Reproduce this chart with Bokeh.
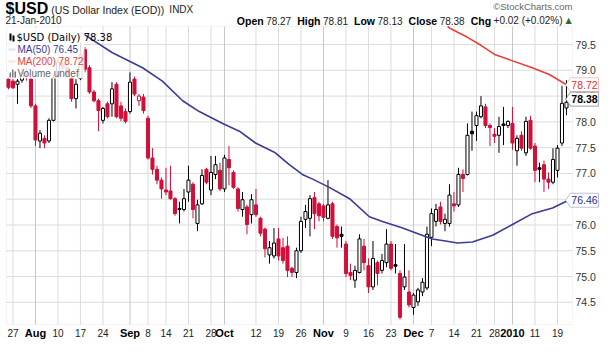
from bokeh.plotting import figure
from bokeh.models import (ColumnDataSource, Range1d, Label, PolyAnnotation, BoxAnnotation)
from bokeh.embed import file_html
from bokeh.resources import INLINE
from bokeh.core.properties import value

# ---------------- data ----------------
# one bar per trading day, 24 Jul 2009 .. 21 Jan 2010
opens = [78.83, 78.79, 78.73, 78.81, 78.95, 78.83, 78.31, 77.63, 77.68, 77.63,
         78.03, 78.90, 79.12, 79.05, 78.86, 78.45, 78.84, 79.40, 79.05, 78.58,
         78.41, 78.03, 78.35, 78.35, 78.73, 78.31, 78.20, 78.20, 78.83, 78.41,
         78.48, 78.07, 77.30, 77.08, 76.87, 76.68, 76.66, 76.51, 76.32, 76.30,
         76.64, 76.79, 76.03, 76.41, 77.08, 76.68, 76.98, 77.06, 76.70, 77.27,
         77.02, 76.70, 76.30, 76.35, 76.20, 76.39, 76.13, 75.92, 75.42, 75.40,
         75.73, 75.56, 75.59, 75.16, 75.08, 75.50, 76.11, 76.13, 76.53, 76.41,
         76.37, 76.13, 76.41, 75.97, 75.82, 75.63, 75.08, 74.93, 75.08, 75.59,
         75.21, 74.80, 75.27, 75.12, 75.27, 75.63, 75.23, 75.06, 74.80, 74.70,
         74.40, 74.51, 74.70, 74.78, 75.76, 76.07, 76.35, 76.03, 76.03, 76.41,
         76.39, 76.98, 76.98, 77.82, 77.93, 78.10, 78.29, 77.93, 77.76, 77.74,
         77.96, 77.93, 77.97, 77.44, 77.74, 77.40, 78.03, 77.53, 77.11, 77.17,
         76.89, 76.83, 77.06, 77.59, 78.27]
highs = [78.86, 78.83, 78.83, 79.02, 79.05, 78.86, 78.35, 77.84, 77.74, 78.07,
         78.92, 79.25, 79.30, 79.15, 78.96, 78.83, 79.53, 79.45, 79.10, 78.62,
         78.45, 78.29, 78.39, 78.77, 78.77, 78.39, 78.26, 78.96, 78.88, 78.54,
         78.54, 78.12, 77.49, 77.15, 76.92, 77.11, 77.15, 76.54, 76.45, 76.70,
         77.15, 76.83, 76.49, 77.08, 77.11, 77.34, 77.34, 77.21, 77.36, 77.53,
         77.06, 76.73, 76.64, 76.39, 76.60, 76.70, 76.16, 75.95, 75.69, 75.94,
         75.94, 75.75, 75.78, 75.19, 75.56, 76.16, 76.39, 76.58, 76.64, 76.45,
         76.41, 76.87, 76.45, 76.01, 75.97, 75.69, 75.25, 75.21, 75.82, 75.73,
         75.35, 75.69, 75.31, 75.44, 75.92, 75.69, 75.63, 75.12, 75.63, 75.12,
         74.68, 74.78, 74.97, 75.97, 76.32, 76.41, 76.45, 76.22, 76.79, 76.64,
         77.11, 77.08, 77.97, 78.20, 78.20, 78.50, 78.35, 77.97, 77.88, 78.10,
         78.29, 78.03, 78.29, 77.74, 77.82, 78.10, 78.12, 77.59, 77.21, 77.25,
         77.02, 77.49, 77.55, 78.70, 78.81]
lows = [78.63, 78.64, 78.35, 78.76, 78.80, 78.27, 77.53, 77.49, 77.49, 77.59,
        78.01, 78.85, 78.98, 78.85, 78.39, 78.26, 78.81, 78.96, 78.54, 78.38,
        77.82, 77.97, 78.07, 78.10, 78.07, 78.01, 77.97, 78.16, 78.50, 78.31,
        78.16, 77.27, 76.98, 76.79, 76.51, 76.58, 76.49, 76.18, 76.03, 76.26,
        76.45, 76.13, 75.88, 76.39, 76.79, 76.58, 76.89, 76.66, 76.64, 76.77,
        76.70, 76.26, 76.16, 75.82, 76.03, 76.16, 75.78, 75.37, 75.25, 75.35,
        75.31, 75.25, 74.99, 74.99, 74.97, 75.46, 75.94, 75.78, 75.92, 76.07,
        76.07, 76.11, 75.73, 75.56, 75.56, 74.99, 74.93, 74.78, 75.06, 75.12,
        74.68, 74.74, 74.83, 75.06, 75.18, 75.12, 75.06, 74.17, 74.74, 74.40,
        74.26, 74.43, 74.62, 74.74, 75.59, 75.97, 76.01, 75.88, 75.97, 76.26,
        76.35, 76.64, 76.96, 77.44, 77.63, 78.07, 77.88, 77.53, 77.59, 77.40,
        77.55, 77.88, 77.46, 77.15, 77.44, 77.34, 77.46, 76.83, 76.83, 76.64,
        76.70, 76.79, 76.92, 77.53, 78.13]
closes = [78.67, 78.66, 78.79, 78.95, 78.88, 78.31, 77.65, 77.78, 77.59, 78.03,
          78.86, 79.15, 79.05, 78.92, 78.45, 78.73, 79.30, 79.02, 78.58, 78.41,
          78.22, 78.26, 78.10, 78.64, 78.10, 78.07, 78.01, 78.77, 78.54, 78.50,
          78.22, 77.30, 77.08, 76.87, 76.70, 76.64, 76.51, 76.22, 76.30, 76.51,
          76.87, 76.30, 76.39, 76.96, 76.83, 77.02, 77.17, 76.70, 77.30, 77.11,
          76.73, 76.32, 76.49, 76.01, 76.49, 76.20, 75.84, 75.54, 75.56, 75.65,
          75.40, 75.31, 75.12, 75.08, 75.50, 76.07, 76.26, 76.51, 76.22, 76.18,
          76.15, 76.39, 75.78, 75.75, 75.78, 75.06, 75.02, 75.12, 75.73, 75.27,
          74.80, 75.35, 75.06, 75.31, 75.63, 75.16, 75.20, 74.21, 74.99, 74.45,
          74.64, 74.74, 74.89, 75.82, 76.22, 76.30, 76.07, 76.11, 76.58, 76.37,
          76.98, 76.90, 77.74, 77.77, 78.12, 78.31, 77.93, 77.89, 77.72, 77.91,
          77.93, 78.01, 77.59, 77.68, 77.49, 78.01, 77.49, 77.06, 77.08, 76.89,
          76.83, 77.27, 77.49, 78.36, 78.38]

# moving averages (bar index, value)
ma50_x = [16.2, 23.1, 29.8, 34.2, 38.7, 42.4, 47.6, 51.3, 54.9, 59.3, 62.4, 65.3, 67.6, 71.3,
          75.8, 80.2, 83.1, 87.6, 91.3, 94.2, 97.1, 99.8, 103.1, 107.6, 112.0, 116.4, 120.9, 124.0]
ma50_y = [79.73, 79.34, 79.05, 78.79, 78.41, 78.20, 77.97, 77.82, 77.59, 77.40, 77.17, 76.98, 76.89, 76.73,
          76.51, 76.16, 76.07, 75.94, 75.82, 75.73, 75.69, 75.65, 75.67, 75.80, 76.01, 76.22, 76.33, 76.46]
ma200_x = [97.6, 98.2, 102.0, 104.9, 108.2, 116.4, 120.2, 124.0]
ma200_y = [79.85, 79.81, 79.64, 79.49, 79.30, 79.05, 78.92, 78.72]

# x tick labels (bar index of the labelled day)
tick_idx = [1, 6, 11, 16, 21, 27, 31, 35, 40, 45, 48, 55, 60, 65, 70, 75, 80, 85, 90, 94,
            99, 104, 108, 112, 117, 122]
tick_text = ["27", "Aug", "10", "17", "24", "Sep", "8", "14", "21", "28", "Oct", "12", "19", "26",
             "Nov", "9", "16", "23", "Dec", "7", "14", "21", "28", "2010", "11", "19"]
y_ticks = [74.5, 75.0, 75.5, 76.0, 76.5, 77.0, 77.5, 78.0, 78.5, 79.0, 79.5]

quote = [("Open", "78.27"), ("High", "78.81"), ("Low", "78.13"), ("Close", "78.38"),
         ("Chg", "+0.02 (+0.02%)")]
last_close_tag = "78.38"
ma50_tag, ma200_tag = "76.46", "78.72"

# ---------------- layout (canvas pixels) ----------------
W, H = 600, 339
CX0, CX1, CY0, CY1 = 6, 572, 26, 324          # chart box inside the canvas
X0, X1 = -0.44, 125.34                        # bar-index span of the chart box
Y0, Y1 = 74.07, 79.85                         # price span of the chart box
PXX = (X1 - X0) / (CX1 - CX0)
PXY = (Y1 - Y0) / (CY1 - CY0)


def dx(px):
    return X0 + (px - CX0) * PXX


def dy(py):
    return Y1 - (py - CY0) * PXY


# approximate Arial/Liberation Sans advance widths (per 1000 em) for text layout
_REG = {" ": 278, "(": 333, ")": 333, "+": 584, "%": 889, ".": 278, "-": 333, "$": 556,
        "I": 278, "N": 722, "D": 722, "X": 667, "U": 722, "S": 667, "E": 667, "O": 778,
        "a": 556, "c": 500, "d": 556, "e": 556, "f": 278, "i": 222, "l": 222, "m": 833,
        "n": 556, "o": 556, "r": 333, "s": 500, "t": 278, "u": 556, "x": 500, "y": 500}
_BOLD = {"O": 778, "p": 611, "e": 556, "n": 611, "H": 722, "i": 278, "g": 611, "h": 611,
         "L": 611, "o": 611, "w": 778, "C": 722, "l": 278, "s": 556, "$": 556, "U": 722,
         "S": 667, "D": 722}


def tw(s, size, bold=False):
    table = _BOLD if bold else _REG
    return sum(table.get(ch, 556) for ch in s) * size / 1000.0


FONT = "Liberation Sans"
RED = "#d0103a"
MA50_C = "#3b3b98"
MA200_C = "#e8413b"
GRID = "#dcdcdc"

p = figure(width=W, height=H, output_backend="svg", toolbar_location=None,
           x_range=Range1d(dx(0), dx(W)), y_range=Range1d(dy(H), dy(0)),
           x_axis_location=None, y_axis_location=None,
           min_border=0, min_border_left=0, min_border_right=0,
           min_border_top=0, min_border_bottom=0)
p.title.visible = False
p.xgrid.visible = False
p.ygrid.visible = False
p.outline_line_color = None
p.background_fill_color = "white"
p.border_fill_color = "white"

is_month = [(not t.isdigit()) or len(t) == 4 for t in tick_text]

# grid lines inside the chart box
p.segment(x0=[X0] * len(y_ticks), x1=[X1] * len(y_ticks), y0=y_ticks, y1=y_ticks,
          line_color=GRID, line_width=1)
p.segment(x0=tick_idx, x1=tick_idx, y0=[Y0] * len(tick_idx), y1=[Y1] * len(tick_idx),
          line_color=["#c6c6c6" if m else GRID for m in is_month], line_width=1)

# candles
n = len(opens)
idx = list(range(n))
prev = [opens[0]] + closes[:-1]
col = ["#000000" if c >= pc else RED for c, pc in zip(closes, prev)]
fill = ["white" if c > o else k for o, c, k in zip(opens, closes, col)]
src = ColumnDataSource(dict(x=idx, o=opens, h=highs, l=lows, c=closes,
                            top=[max(a, b) for a, b in zip(opens, closes)],
                            bot=[min(a, b) for a, b in zip(opens, closes)],
                            col=col, fill=fill))
p.segment(x0="x", y0="h", x1="x", y1="l", line_color="col", line_width=1, source=src)
p.vbar(x="x", top="top", bottom="bot", width=0.68, fill_color="fill", line_color="col",
       line_width=1, source=src)

# moving averages
p.line(ma50_x, ma50_y, line_color=MA50_C, line_width=1.6)
p.line(ma200_x, ma200_y, line_color=MA200_C, line_width=1.6)

# chart box border (dotted)
p.add_layout(BoxAnnotation(left=X0, right=X1, bottom=Y0, top=Y1, fill_alpha=0,
                           line_color="#9a9a9a", line_dash="1 2", line_width=1))

# right price scale labels
p.text(x=[dx(CX1 + 3)] * len(y_ticks), y=y_ticks, text=["%.1f" % t for t in y_ticks],
       text_align="left", text_baseline="middle", text_font=value(FONT),
       text_font_size="10.5px", text_color="#333333")

# date labels under the chart box
ly = dy(CY1 + 8)
p.text(x=[t for t, m in zip(tick_idx, is_month) if not m], y=[ly] * is_month.count(False),
       text=[s for s, m in zip(tick_text, is_month) if not m], text_align="center",
       text_baseline="middle", text_font=value(FONT), text_font_size="10px",
       text_color="#222222")
p.text(x=[t for t, m in zip(tick_idx, is_month) if m], y=[ly] * is_month.count(True),
       text=[s for s, m in zip(tick_text, is_month) if m], text_align="center",
       text_baseline="middle", text_font=value(FONT), text_font_size="11px",
       text_font_style="bold", text_color="#000000")

# legend background box + icons
p.add_layout(BoxAnnotation(left=dx(CX0 + 1), right=dx(84), top=dy(CY0 + 1), bottom=dy(78),
                           fill_color="white", fill_alpha=0.85, line_color=None))


def txt(px, py, s, size, color="#000000", bold=False, font=FONT, align="left"):
    p.add_layout(Label(x=dx(px), y=dy(py), text=s, text_font=font, text_font_size="%spx" % size,
                       text_color=color, text_font_style="bold" if bold else "normal",
                       text_align=align, text_baseline="middle"))


p.add_layout(BoxAnnotation(left=dx(9), right=dx(11), top=dy(33), bottom=dy(40),
                           fill_color="#000000", fill_alpha=1, line_color=None))
p.add_layout(BoxAnnotation(left=dx(12), right=dx(14), top=dy(35), bottom=dy(41),
                           fill_color="#000000", fill_alpha=1, line_color=None))
for l, r, t in [(9, 10.5, 72), (11.5, 13, 69), (14, 15.5, 71)]:
    p.add_layout(BoxAnnotation(left=dx(l), right=dx(r), top=dy(t), bottom=dy(77),
                               fill_color="#777777", fill_alpha=1, line_color=None))
txt(16, 37, "$USD (Daily) 78.38", 10, "#000000", font="DejaVu Sans")
p.segment(x0=[dx(8), dx(8)], x1=[dx(15), dx(15)], y0=[dy(49), dy(61)], y1=[dy(49), dy(61)],
          line_color=[MA50_C, MA200_C], line_width=2)
txt(17, 49, "MA(50) 76.45", 10, MA50_C)
txt(17, 61, "MA(200) 78.72", 10, MA200_C)
txt(17, 73, "Volume undef", 10, "#666666")

# header, line 1
x = 5
txt(x, 8, "$USD", 16, bold=True)
x += tw("$USD", 16, True) + 3
txt(x, 9, "(US Dollar Index (EOD))", 10.5, "#222222")
x += tw("(US Dollar Index (EOD))", 10.5) + 5
txt(x, 9, "INDX", 10, "#222222")
txt(CX1, 6, "\u00a9StockCharts.com", 9.5, "#666666", align="right")

# header, line 2
txt(5, 20, "21-Jan-2010", 10, "#222222")
SB, SR = 10.5, 10
total = sum(tw(a, SB, True) + 2.5 + tw(b, SR) for a, b in quote) + 6 * (len(quote) - 1)
x = 562 - total
for a, b in quote:
    txt(x, 20, a, SB, "#000000", bold=True)
    x += tw(a, SB, True) + 2.5
    txt(x, 20, b, SR, "#222222")
    x += tw(b, SR) + 6
txt(565, 20, "\u25b2", 8, "#2f6b2f", font="DejaVu Sans")


# value tags on the right
def tag(v, s, color, bold=False):
    hh = 7 * PXY
    xs = [dx(565), dx(570), dx(598), dx(598), dx(570)]
    ys = [v, v + hh, v + hh, v - hh, v - hh]
    p.add_layout(PolyAnnotation(xs=xs, ys=ys, fill_color="white", fill_alpha=1.0,
                                line_color=color, line_width=1.2 if bold else 1))
    p.add_layout(Label(x=dx(584), y=v, text=s, text_font=FONT, text_font_size="10.5px",
                       text_color=color, text_font_style="bold" if bold else "normal",
                       text_align="center", text_baseline="middle"))


tag(float(ma200_tag), ma200_tag, "#e03030")
tag(float(last_close_tag) + 0.06, last_close_tag, "#000000", bold=True)
tag(float(ma50_tag) + 0.02, ma50_tag, "#2a2a8a")

open("out.html", "w").write(file_html(p, INLINE))
